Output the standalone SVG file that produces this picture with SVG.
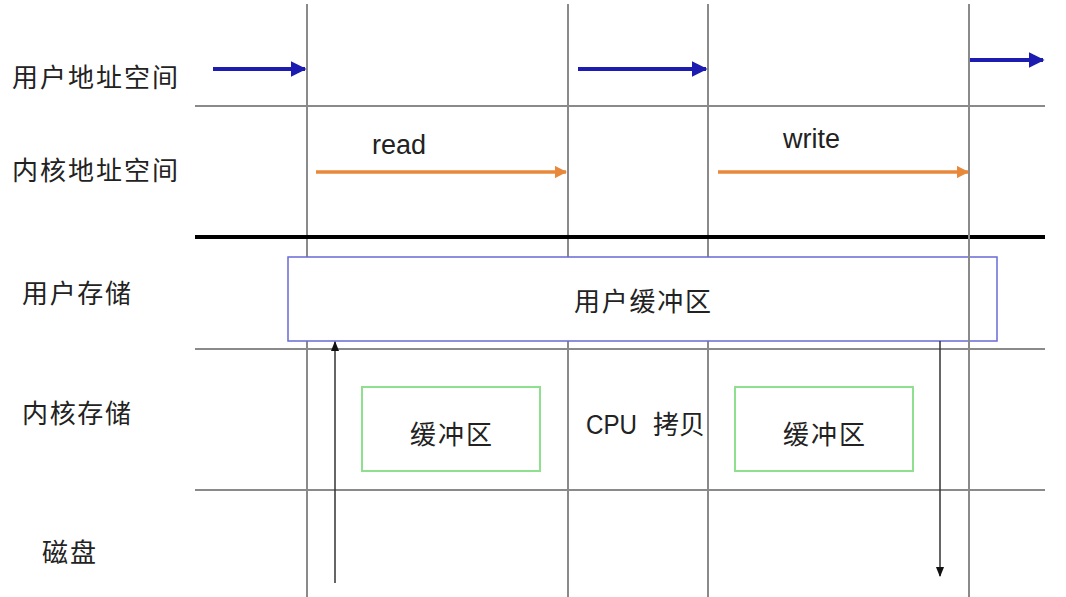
<svg xmlns="http://www.w3.org/2000/svg" width="1066" height="597" viewBox="0 0 1066 597">
<defs>
<style>
.grid{stroke:#8a8a8a;stroke-width:2;fill:none}
.lbl{font-family:"Liberation Sans","Noto Sans CJK SC",sans-serif;font-size:26px;fill:#222}
.lat{font-family:"Liberation Sans","Noto Sans CJK SC",sans-serif;font-size:27px;fill:#222}
.blue{stroke:#1c1cb0;stroke-width:4;fill:none}
.orange{stroke:#e8883a;stroke-width:3.5;fill:none}
.thin{stroke:#333;stroke-width:1.5;fill:none}
</style>
<marker id="mb" viewBox="0 0 10 10" refX="9" refY="5" markerWidth="4" markerHeight="4" orient="auto"><path d="M0,0 L10,5 L0,10 Z" fill="#1c1cb0"/></marker>
<marker id="mo" viewBox="0 0 10 10" refX="9" refY="5" markerWidth="3.5" markerHeight="3.5" orient="auto"><path d="M0,0 L10,5 L0,10 Z" fill="#e8883a"/></marker>
<marker id="mk" viewBox="0 0 10 10" refX="9" refY="5" markerWidth="7" markerHeight="7" orient="auto"><path d="M0,1 L10,5 L0,9 Z" fill="#111"/></marker>
</defs>
<rect width="1066" height="597" fill="#fff"/>
<g id="grid">
<line class="grid" x1="307" y1="4" x2="307" y2="597"/>
<line class="grid" x1="568" y1="4" x2="568" y2="597"/>
<line class="grid" x1="708" y1="4" x2="708" y2="597"/>
<line class="grid" x1="195" y1="106" x2="1045" y2="106"/>
<line class="grid" x1="195" y1="349" x2="1045" y2="349"/>
<line class="grid" x1="195" y1="490" x2="1045" y2="490"/>
<line x1="195" y1="237" x2="1045" y2="237" stroke="#000" stroke-width="4"/>
</g>
<g id="labels">
<text class="lbl" x="12" y="87" textLength="166">用户地址空间</text>
<text class="lbl" x="12" y="180" textLength="166">内核地址空间</text>
<text class="lbl" x="22" y="303" textLength="109">用户存储</text>
<text class="lbl" x="22" y="423" textLength="109">内核存储</text>
<text class="lbl" x="42" y="562" textLength="54">磁盘</text>
</g>
<g id="user-buffer">
<rect x="288" y="257" width="709" height="84" fill="#fff" stroke="#6a6ad8" stroke-width="1.5"/>
<text class="lbl" x="574" y="311" textLength="137">用户缓冲区</text>
</g>
<line class="grid" x1="969" y1="4" x2="969" y2="597"/>
<g id="kernel-buffer-1">
<rect x="362" y="387" width="178" height="84" fill="#fff" stroke="#8ee08e" stroke-width="2"/>
<text class="lbl" x="410" y="444" textLength="82">缓冲区</text>
</g>
<g id="kernel-buffer-2">
<rect x="735" y="387" width="178" height="84" fill="#fff" stroke="#8ee08e" stroke-width="2"/>
<text class="lbl" x="783" y="444" textLength="82">缓冲区</text>
</g>
<text id="cpu-copy" class="lbl" y="434"><tspan x="586" font-size="27" textLength="51" lengthAdjust="spacingAndGlyphs">CPU</tspan><tspan x="653">拷贝</tspan></text>
<g id="connectors">
<line class="blue" x1="213" y1="69" x2="305" y2="69" marker-end="url(#mb)"/>
<line class="blue" x1="578" y1="69" x2="706" y2="69" marker-end="url(#mb)"/>
<line class="blue" x1="970" y1="60" x2="1043" y2="60" marker-end="url(#mb)"/>
<line class="orange" x1="316" y1="172" x2="566" y2="172" marker-end="url(#mo)"/>
<line class="orange" x1="718" y1="172" x2="968" y2="172" marker-end="url(#mo)"/>
<line class="thin" x1="335" y1="583" x2="335" y2="342" marker-end="url(#mk)"/>
<line class="thin" x1="940" y1="341" x2="940" y2="576" marker-end="url(#mk)"/>
</g>
<text class="lat" x="372" y="154">read</text>
<text class="lat" x="783" y="148">write</text>
</svg>
